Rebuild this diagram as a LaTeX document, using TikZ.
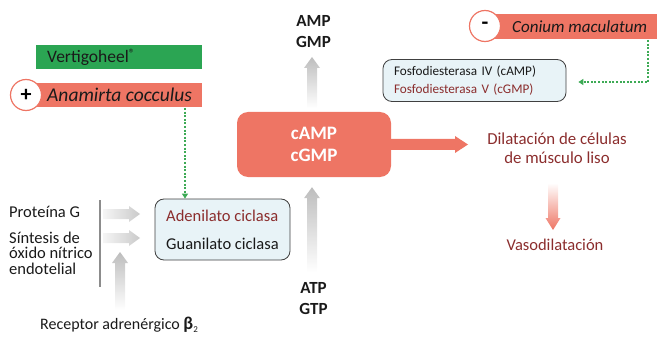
\documentclass[tikz,border=0pt]{standalone}
\usepackage{fontspec}
\setmainfont{Carlito}
\usetikzlibrary{calc,arrows.meta}
\definecolor{salmon}{HTML}{EE7564}
\definecolor{dred}{HTML}{8B2D2D}
\definecolor{vgreen}{HTML}{2BA553}
\definecolor{dgreen}{HTML}{3DAA55}
\definecolor{boxblue}{HTML}{E8F3F7}
\definecolor{txtc}{HTML}{1A1A1A}
\definecolor{arrgray}{HTML}{BDBDBD}
% vertical arrow (up or down): #1 shading, #2 base, #3 tip, #4 half shaft, #5 half head, #6 head length (signed)
\newcommand\myvarrow[6]{\shade[#1] let \p1=(#2), \p2=(#3) in
  (\x1-#4,\y1) -- (\x1-#4,\y2-#6) -- (\x1-#5,\y2-#6) -- (\x2,\y2) -- (\x1+#5,\y2-#6) -- (\x1+#4,\y2-#6) -- (\x1+#4,\y1) -- cycle;}
\newcommand\myharrow[6]{\shade[#1] let \p1=(#2), \p2=(#3) in
  (\x1,\y1+#4) -- (\x2-#6,\y1+#4) -- (\x2-#6,\y1+#5) -- (\x2,\y2) -- (\x2-#6,\y1-#5) -- (\x2-#6,\y1-#4) -- (\x1,\y1-#4) -- cycle;}
\begin{document}
\begin{tikzpicture}[x=1pt,y=-1pt,
  txt/.style={font=\fontsize{16}{15.5}\selectfont, text=txtc, inner sep=0pt},
  boldtxt/.style={font=\fontsize{17}{21}\selectfont\bfseries, text=txtc, inner sep=0pt, align=center},
  infobox/.style={draw=black!75, fill=boxblue, rounded corners=9pt, line width=0.8pt, inner ysep=0pt, align=left},
  dotarrow/.style={draw=dgreen, dash pattern=on 2pt off 1.6pt, line width=1.3pt, -{Triangle[length=5pt,width=6pt]}},
  signcircle/.style={circle, draw=salmon, line width=1.2pt, fill=white, minimum size=31pt, inner sep=0pt, font=\fontsize{22}{22}\selectfont\bfseries},
]
\useasboundingbox (0,0) rectangle (657,337);

% Vertigoheel
\node[fill=vgreen, anchor=west, minimum width=166pt, minimum height=24pt, inner xsep=11pt, text width=144pt, align=left,
      font=\fontsize{17.5}{17.5}\selectfont, text=txtc] (vert) at (36,57) {Vertigoheel\raisebox{5pt}{\fontsize{12}{12}\selectfont ®}};

% Anamirta cocculus
\fill[salmon] (26,83) rectangle (202,107);
\node[signcircle] (plus) at (26,95) {+};
\node[txt, anchor=west, font=\fontsize{19.5}{19.5}\selectfont\itshape] (anam) at (47,95) {Anamirta cocculus};
\coordinate (anamdot) at (185,108);

% Conium maculatum
\fill[salmon] (485,14) rectangle (657,39);
\node[signcircle] (minus) at (485,26) {-};
\node[txt, anchor=west, font=\fontsize{17}{17}\selectfont\itshape] (con) at (512,27) {Conium maculatum};
\coordinate (condot) at (648,40);

% Fosfodiesterasa box
\node[infobox, minimum width=183pt, minimum height=42pt, inner xsep=11pt, text width=161pt,
      font=\fontsize{13.2}{18}\selectfont] (fosfo) at (474.5,80.5)
  {{\color{txtc}Fosfodiesterasa IV (cAMP)}\\{\color{dred}Fosfodiesterasa V (cGMP)}};

% Adenilato box
\node[infobox, minimum width=135pt, minimum height=61pt, inner xsep=8pt,
      font=\fontsize{16.5}{28}\selectfont] (aden) at (222.5,229.5)
  {{\color{dred}Adenilato ciclasa}\\{\color{txtc}Guanilato ciclasa}};

% cAMP box
\node[fill=salmon, rounded corners=11pt, minimum width=154pt, minimum height=65pt, align=center,
      font=\fontsize{19}{22}\selectfont\bfseries, text=white] (camp) at (314,144.5) {cAMP\\cGMP};

% AMP / ATP texts
\node[boldtxt] (amp) at (313.5,32) {AMP\\GMP};
\node[boldtxt] (atp) at (313.5,299) {ATP\\GTP};

% left texts
\node[txt, anchor=west, font=\fontsize{16.5}{15.5}\selectfont] (prot) at (9,212) {Proteína G};
\node[txt, anchor=west, align=left, font=\fontsize{16.5}{15.5}\selectfont] (sint) at (9,253) {Síntesis de\\óxido nítrico\\endotelial};
\node[txt, anchor=west] (rec) at (40,325) {Receptor adrenérgico \textbf{\fontsize{18}{18}\selectfont β}\raisebox{-3pt}{\fontsize{9}{9}\selectfont 2}};

% vertical gray bar
\coordinate (bartop) at (100,200);
\coordinate (barbot) at (100,287);
\draw[black!45, line width=2pt] (bartop) -- (barbot);

% Dilatacion texts
\node[txt, align=center, text=dred, font=\fontsize{16.8}{19}\selectfont] (dil) at (557,148.5) {Dilatación de células\\de músculo liso};
\node[txt, text=dred, font=\fontsize{16.5}{19}\selectfont] (vaso) at (555,245) {Vasodilatación};

% gray arrows
\coordinate (ampbase) at (312,108);
\coordinate (amptip) at (312,57);
\myvarrow{top color=arrgray, bottom color=white}{ampbase}{amptip}{5pt}{8pt}{11pt}
\coordinate (atpbase) at (312,272);
\coordinate (atptip) at ($(camp.south)+(-2,10)$);
\myvarrow{top color=arrgray, bottom color=white}{atpbase}{atptip}{5pt}{8pt}{11pt}
\coordinate (h1a) at (103,214);
\coordinate (h1b) at (140,214);
\myharrow{left color=white!85!arrgray, right color=arrgray!80}{h1a}{h1b}{5pt}{8pt}{11pt}
\coordinate (h2a) at (103,238);
\coordinate (h2b) at (140,238);
\myharrow{left color=white!85!arrgray, right color=arrgray!80}{h2a}{h2b}{5pt}{8pt}{11pt}
\coordinate (recbase) at (120,310);
\coordinate (rectip) at (120,252);
\myvarrow{top color=arrgray, bottom color=white}{recbase}{rectip}{5pt}{8pt}{11pt}

% salmon arrows
\coordinate (camptip) at (468,144.5);
\myharrow{left color=salmon, right color=salmon}{camp.east}{camptip}{5.5pt}{8.5pt}{13pt}
\coordinate (dilbase) at (553,183);
\coordinate (diltip) at (553,230);
\myvarrow{top color=white, bottom color=salmon}{dilbase}{diltip}{5pt}{7.5pt}{-12pt}

% green dotted arrows
\draw[dotarrow] (anamdot) -- (anamdot |- aden.north);
\draw[dotarrow] (condot) |- ([xshift=12pt,yshift=-1.5pt]fosfo.east);
\end{tikzpicture}
\end{document}
